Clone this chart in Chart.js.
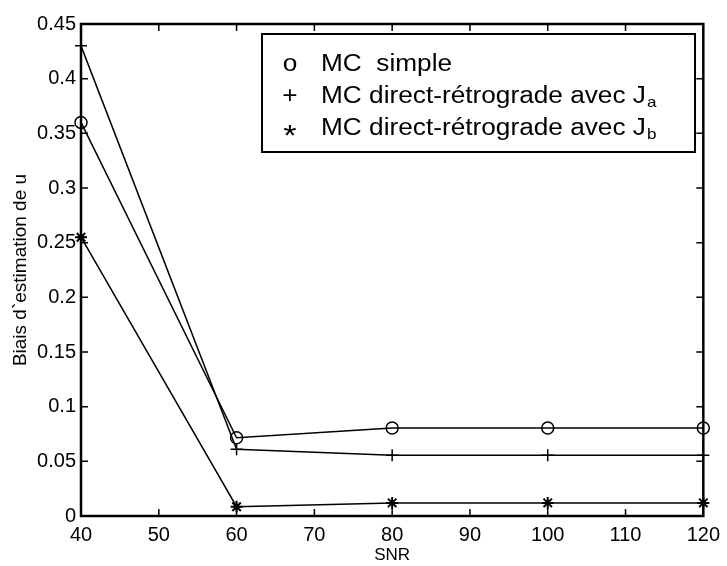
<!DOCTYPE html>
<html>
<head>
<meta charset="utf-8">
<script src="https://cdn.jsdelivr.net/npm/chart.js@4/dist/chart.umd.min.js"></script>
<style>
  html, body { margin: 0; padding: 0; background: #fff; }
</style>
</head>
<body>
<canvas id="chart" width="727" height="566"></canvas>
<script>
// SNR values (x axis)
const snr = [40, 60, 80, 100, 120];

// bias of u estimation, one array per method
const mcSimple = [0.36, 0.0715, 0.0805, 0.0805, 0.0805];
const mcJa = [0.43, 0.061, 0.0555, 0.0555, 0.0555];
const mcJb = [0.255, 0.0085, 0.012, 0.012, 0.012];

// tick labels
const xTicks = [40, 50, 60, 70, 80, 90, 100, 110, 120];
const yTicks = [0, 0.05, 0.1, 0.15, 0.2, 0.25, 0.3, 0.35, 0.4, 0.45];

// legend text
const legendMarks = ['o', '+', '*'];
const legendLabels = ['MC  simple', 'MC direct-rétrograde avec J', 'MC direct-rétrograde avec J'];
const legendSubs = ['', 'a', 'b'];

const FONT = '"Liberation Sans", Arial, Helvetica, sans-serif';

const toPoints = ys => ys.map((y, i) => ({ x: snr[i], y: y }));

// frame with inward ticks on all four sides + boxed legend
const framePlugin = {
  id: 'frame',
  afterDatasetsDraw(chart) {
    const { ctx, chartArea: a, scales } = chart;
    ctx.save();
    ctx.strokeStyle = '#000';
    ctx.lineWidth = 2.5;
    ctx.strokeRect(a.left, a.top, a.right - a.left, a.bottom - a.top);
    ctx.lineWidth = 1.5;
    const tl = 7;
    ctx.beginPath();
    xTicks.forEach(v => {
      const px = scales.x.getPixelForValue(v);
      ctx.moveTo(px, a.bottom); ctx.lineTo(px, a.bottom - tl);
      ctx.moveTo(px, a.top); ctx.lineTo(px, a.top + tl);
    });
    yTicks.forEach(v => {
      const py = scales.y.getPixelForValue(v);
      ctx.moveTo(a.left, py); ctx.lineTo(a.left + tl, py);
      ctx.moveTo(a.right, py); ctx.lineTo(a.right - tl, py);
    });
    ctx.stroke();

    // legend
    const box = { x: 262, y: 34, w: 433, h: 118 };
    ctx.fillStyle = '#fff';
    ctx.fillRect(box.x, box.y, box.w, box.h);
    ctx.lineWidth = 2;
    ctx.strokeRect(box.x, box.y, box.w, box.h);
    ctx.fillStyle = '#000';
    ctx.textBaseline = 'alphabetic';
    const rows = [71, 103, 135];
    const sx = 1.14; // the original text is a bit wide
    legendLabels.forEach((txt, i) => {
      ctx.save();
      ctx.translate(0, rows[i]);
      ctx.scale(sx, 1);
      ctx.textAlign = 'center';
      if (legendMarks[i] === '*') {
        ctx.font = '30px ' + FONT;
        ctx.fillText(legendMarks[i], 290 / sx, 10);
      } else {
        ctx.font = '23px ' + FONT;
        ctx.fillText(legendMarks[i], 290 / sx, 0);
      }
      ctx.font = '23px ' + FONT;
      ctx.textAlign = 'left';
      ctx.fillText(txt, 321 / sx, 0);
      if (legendSubs[i]) {
        const w = ctx.measureText(txt).width;
        ctx.font = '15px ' + FONT;
        ctx.fillText(legendSubs[i], 321 / sx + w + 1, 4);
      }
      ctx.restore();
    });
    ctx.restore();
  }
};

const ctx = document.getElementById('chart').getContext('2d');
new Chart(ctx, {
  type: 'line',
  data: {
    datasets: [
      {
        label: 'MC simple',
        data: toPoints(mcSimple),
        borderColor: '#000',
        borderWidth: 1.5,
        pointStyle: 'circle',
        pointRadius: 6,
        pointBorderWidth: 1.5,
        pointBorderColor: '#000',
        pointBackgroundColor: 'rgba(0,0,0,0)'
      },
      {
        label: 'MC direct-rétrograde avec Ja',
        data: toPoints(mcJa),
        borderColor: '#000',
        borderWidth: 1.5,
        pointStyle: 'cross',
        pointRadius: 6,
        pointBorderWidth: 1.5,
        pointBorderColor: '#000'
      },
      {
        label: 'MC direct-rétrograde avec Jb',
        data: toPoints(mcJb),
        borderColor: '#000',
        borderWidth: 1.5,
        pointStyle: 'star',
        pointRadius: 6,
        pointBorderWidth: 2,
        pointBorderColor: '#000'
      }
    ]
  },
  options: {
    responsive: false,
    animation: false,
    devicePixelRatio: 1,
    clip: false,
    layout: { padding: { top: 24, right: 21, left: 0, bottom: 0 } },
    plugins: {
      legend: { display: false },
      tooltip: { enabled: false }
    },
    elements: { line: { tension: 0 } },
    scales: {
      x: {
        type: 'linear',
        min: 40,
        max: 120,
        afterFit: s => { s.height = 50; },
        afterBuildTicks: s => { s.ticks = xTicks.map(v => ({ value: v })); },
        grid: { display: false, drawTicks: false },
        border: { display: false },
        ticks: { color: '#000', font: { family: FONT, size: 20 }, padding: 7, maxRotation: 0 },
        title: { display: true, text: 'SNR', color: '#000', font: { family: FONT, size: 17 }, padding: 0 }
      },
      y: {
        type: 'linear',
        min: 0,
        max: 0.45,
        afterFit: s => { s.width = 81; },
        afterBuildTicks: s => { s.ticks = yTicks.map(v => ({ value: v })); },
        grid: { display: false, drawTicks: false },
        border: { display: false },
        ticks: {
          color: '#000',
          font: { family: FONT, size: 20 },
          padding: 5,
          callback: v => String(+v.toFixed(2))
        },
        title: { display: true, text: 'Biais d`estimation de u', color: '#000', font: { family: FONT, size: 19 }, padding: { top: 9, bottom: 0 } }
      }
    }
  },
  plugins: [framePlugin]
});
</script>
</body>
</html>
